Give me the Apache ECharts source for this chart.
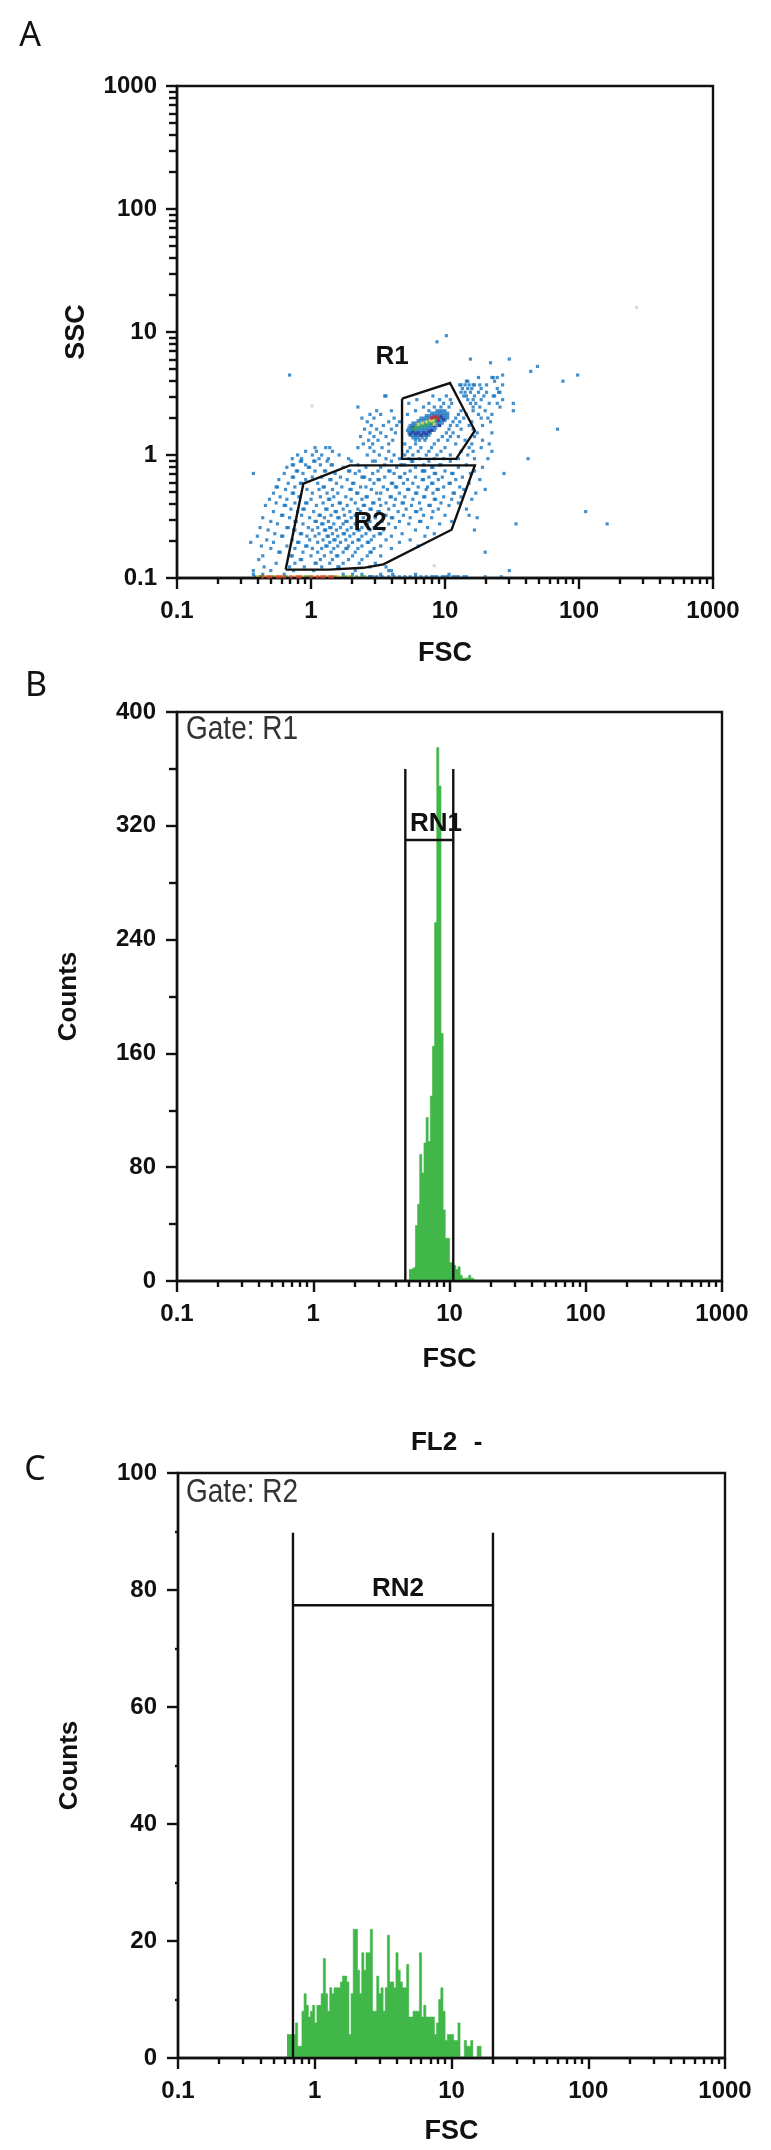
<!DOCTYPE html>
<html>
<head>
<meta charset="utf-8">
<title>FSC SSC gating</title>
<script src="https://cdn.jsdelivr.net/npm/echarts@6/dist/echarts.min.js"></script>
<style>
  html, body { margin: 0; padding: 0; background: #fff; }
  #main { width: 771px; height: 2150px; }
</style>
</head>
<body>
<div id="main"></div>
<script>
// scatter is kept as rows: [log10(SSC) x 100, [log10(FSC) x 100, ...]]
const cloudRows = [
  [97,[101]], [92,[94]], [78,[119,148]], [75,[134]], [72,[169]], [68,[164]], [65,[-16,199,143]],
  [63,[125,135,136,139]], [60,[116,117,137,188]], [57,[111,112,115,118,121,122,126,131,143]],
  [54,[113,117,120,127,139]], [51,[112,115,119,125,131,140,141]], [48,[55,56,91,101,114,116,122,129,136,137]],
  [45,[79,96,104,117,121,127,143]], [42,[73,88,99,105,119,123,133,139,151]],
  [39,[35,84,92,97,103,121,126,141]], [36,[49,60,78,88,112,121,130,151]],
  [33,[44,52,72,110,116,125,135]], [30,[38,47,62,108,114,127,132]],
  [27,[42,58,66,106,111,120,134]], [24,[45,54,64,104,109,118,128]],
  [21,[40,49,60,103,112,121,184]], [18,[44,52,63,101,106,124,135]],
  [15,[37,47,56,98,104,110,122]], [12,[43,50,61,95,102,115,128]],
  [9,[39,46,58,70,78,92,108,120,133]], [6,[3,11,14,35,44,53,74,82,90,100,118,127]],
  [3,[-4,4,16,47,58,72,80,88,97,112,121,135]], [0,[-10,1,8,21,42,51,62,70,76,86,94,104,117]],
  [-3,[-14,-7,6,13,28,56,66,73,81,92,99,110,122,132,162]],
  [-5,[-8,-7,2,3,12,30,46,48,60,75,76,88,104]],
  [-8,[-14,-13,-4,7,15,16,35,55,67,68,70,84,96,97,116]],
  [-10,[-18,-2,-1,24,41,52,64,78,90,91,110,128]],
  [-13,[-11,-10,3,10,11,28,29,36,50,58,59,74,83,84,85,100,122]],
  [-15,[-43,-20,-6,18,33,46,62,70,92,93,105,106,119,144]],
  [-18,[-14,-13,1,8,22,38,39,40,55,66,67,78,88,98,113]],
  [-20,[-24,-4,14,15,27,44,50,51,72,83,84,95,108,126]],
  [-23,[-17,-8,-7,5,19,31,32,47,60,61,69,76,90,91,103,104,118]],
  [-26,[-26,-25,-12,9,10,23,37,41,54,63,64,80,87,99,111]],
  [-28,[-19,-3,6,16,29,30,45,57,72,73,86,94,95,114,130]],
  [-31,[-28,-14,-13,1,12,20,34,35,49,52,66,78,79,91,106,107,123]],
  [-34,[-23,-9,-8,7,17,26,41,42,59,60,70,84,85,99,112]],
  [-36,[-31,-18,0,13,14,30,38,51,63,76,92,93,105,120]],
  [-39,[-26,-12,-4,-3,9,21,22,33,46,47,56,68,69,81,97,110]],
  [-41,[-34,-20,-19,4,16,27,39,40,52,62,75,88,89,103]],
  [-44,[-15,-6,-5,11,12,24,35,44,45,58,71,82,95,116]],
  [-46,[-28,-10,2,18,19,29,37,50,51,65,78,79,91,205]],
  [-49,[-22,-21,-7,6,7,15,25,33,34,43,55,56,69,84,100,118]],
  [-51,[-36,-16,-1,10,20,21,30,39,48,60,61,74,90,124]],
  [-54,[-30,-12,-11,3,4,13,26,27,36,44,53,66,81,82,105]],
  [-56,[-25,-6,8,9,17,24,33,41,42,50,58,73,96,153,221]],
  [-59,[-38,-18,-17,-2,5,14,15,22,30,38,47,48,63,87]],
  [-61,[-32,-13,-12,1,10,11,19,27,35,36,44,54,78,122]],
  [-64,[-27,-8,-7,6,16,24,25,32,41,51,52,68,92]],
  [-66,[-40,-22,-21,-3,3,12,13,20,29,38,47,60,85]],
  [-69,[-33,-14,-1,9,17,18,26,35,36,45,56,74]],
  [-71,[-45,-28,-10,-9,5,14,22,31,42,43,66]],
  [-74,[-37,-18,-4,-3,11,12,20,28,38,52,80]],
  [-76,[-30,-12,1,8,17,26,27,35,47,60]],
  [-79,[-24,-23,-6,5,15,24,33,44,45,130]],
  [-82,[-36,-15,-14,0,10,19,20,31,42,52]],
  [-85,[-39,-8,-7,7,16,28,38]],
  [-88,[-26,-12,3,4,14,24,36,48]],
  [-91,[-35,-16,-5,8,20,21,44,56]],
  [-94,[-43,-30,-13,2,33,58,60,148]],
  [-97,[-43,-36,-20,24,31,38,52,61,78,103]],
  [-99,[-42,-38,44,46,49,53,58,62,66,70,74,78,82,86,90,94,98,102,106,110,114,130,142]]
];
const blobRows = [
  [36,[94,96,98,100]], [34,[90,92,94,96,98,100,102]], [32,[86,88,90,92,94,96,98,100,102]],
  [30,[82,84,86,88,90,92,94,96,98,100,102]], [28,[80,82,84,86,88,90,92,94,96,98,100]],
  [26,[76,78,80,82,84,86,88,90,92,94,96,98]], [24,[74,76,78,80,82,84,86,88,90,92,94,96]],
  [22,[73,75,77,79,81,83,85,87,89,91,93]], [20,[72,74,76,78,80,82,84,86,88,90,92]],
  [18,[73,75,77,79,81,83,85,87,89]], [16,[74,76,78,80,82,84,86,88]], [14,[76,78,80,83,86]], [12,[78,81,85]]
];
const peakDark = [[74,17],[76,19],[78,17],[80,18],[82,16],[84,18],[86,17],[88,19],[90,20],[92,24],[95,28],[97,31],[99,29],[96,24],[76,22]];
const peakGreen = [[76,21],[78,22],[80,23],[82,23],[85,24],[87,25],[89,26],[91,26],[93,29]];
const peakYellow = [[80,25],[83,26],[86,27],[89,28],[91,28],[92,25]];
const peakRed = [[90,30],[92,31],[94,31],[95,29]];
const faintDots = [[243,120],[0.7,40],[92,-90]];
const baseBlue = [[44,-99],[92,-99],[100,-99],[108,-99],[116,-99]];
const baseGreen = [[-38,-99],[-28,-99],[-18,-99],[-4,-99],[-2,-99],[18,-99],[24,-99],[26,-99],[30,-99],[34,-99],[38,-99],[40,-99]];
const baseYellow = [[-40,-99],[-34,-99],[-26,-99],[-22,-99],[-12,-99],[-6,-99],[2,-99],[12,-99],[20,-99],[28,-99]];
const baseRed = [[-36,-99],[-32,-99],[-30,-99],[-25,-99],[-23,-99],[-20,-99],[-15,-99],[-10,-99],[-8,-99],[0,-99],[5,-99],[8,-99],[10,-99],[14,-99],[16,-99]];

const gateR1 = [[4.78,2.87],[10.9,3.85],[16.7,1.58],[12.1,0.93],[4.78,0.93],[4.78,2.87]];
const gateR2 = [[0.647,0.117],[1.36,0.117],[2.46,0.121],[3.47,0.129],[11.2,0.247],[16.7,0.824],[1.95,0.824],[0.877,0.585],[0.647,0.117]];
const gateRN1 = [[4.74,0],[4.74,360],[4.74,310],[10.66,310],[10.66,360],[10.66,0]];
const gateRN2 = [[0.693,0],[0.693,89.8],[0.693,77.4],[20.1,77.4],[20.1,89.8],[20.1,0]];

// histogram counts by channel (256 channels over the four decades)
const startB = 109;
const countsB = [8,9,10,39,54,89,76,97,115,98,130,165,252,375,348,174,50,30,30,13,13,11,8,10,4,2,2,2,4,2,1];
const startC = 51;
const countsC = [4,4,4,4,6,2,2,8,11,9,7,8,9,6,9,9,11,17,11,8,12,11,12,12,12,13,14,14,13,4,11,22,22,15,11,18,15,18,18,22,8,8,14,11,12,8,12,21,13,13,12,18,15,13,12,12,16,7,7,8,8,8,18,7,9,7,7,7,7,4,6,10,12,8,3,4,4,4,3,3,6,0,0,3,2,2,3,0,0,2,2];

const minorDecadeTicks = [0.2,0.3,0.4,0.5,0.6,0.7,0.8,0.9,2,3,4,5,6,7,8,9,20,30,40,50,60,70,80,90,200,300,400,500,600,700,800,900];
const logLabels = [0.1,1,10,100,1000];

const INK = '#111';
const GREEN = '#41b649';
const LINE_W = 2.4;
const labelFont = { fontFamily: 'Liberation Sans', fontWeight: 'bold', color: INK };

function fromLog(p) { return [Math.pow(10, p[0] / 100), Math.pow(10, p[1] / 100)]; }
function rowsToPoints(rows) {
  const pts = [];
  rows.forEach(r => r[1].forEach(x => pts.push(fromLog([x, r[0]]))));
  return pts;
}
function channelData(start, counts) {
  const out = [];
  for (let i = 0; i < 256; i++) {
    const v = counts[i - start];
    out.push(v === undefined ? null : v);
  }
  return out;
}
const channels = [];
for (let i = 0; i < 256; i++) channels.push(i);
const plainNumber = v => String(v);

function logX(gridIndex, nameGap) {
  return [
    { type: 'log', gridIndex, position: 'bottom', min: 0.1, max: 1000, logBase: 10, z: 5,
      name: 'FSC', nameLocation: 'middle', nameGap,
      nameTextStyle: Object.assign({ fontSize: 27 }, labelFont),
      axisLine: { show: true, onZero: false, lineStyle: { color: INK, width: LINE_W } },
      axisTick: { show: true, length: 11, lineStyle: { color: INK, width: LINE_W }, customValues: logLabels },
      axisLabel: Object.assign({ fontSize: 24, margin: 21, hideOverlap: false, customValues: logLabels, formatter: plainNumber, showMinLabel: true, showMaxLabel: true }, labelFont),
      splitLine: { show: false } },
    { type: 'log', gridIndex, position: 'bottom', min: 0.1, max: 1000, logBase: 10, z: 5,
      axisLine: { show: false, onZero: false },
      axisTick: { show: true, length: 6, lineStyle: { color: INK, width: LINE_W }, customValues: minorDecadeTicks },
      axisLabel: { show: false }, splitLine: { show: false } }
  ];
}
function channelX(gridIndex) {
  return { type: 'category', gridIndex, data: channels, boundaryGap: true, show: false };
}
function countY(gridIndex, max, interval, minorLen, nameGap, fontSize) {
  return { type: 'value', gridIndex, position: 'left', min: 0, max, interval, z: 5,
    name: 'Counts', nameLocation: 'middle', nameGap,
    nameTextStyle: Object.assign({ fontSize: 26 }, labelFont),
    axisLine: { show: true, onZero: false, lineStyle: { color: INK, width: LINE_W } },
    axisTick: { show: true, length: 11, lineStyle: { color: INK, width: LINE_W } },
    minorTick: { show: true, splitNumber: 2, length: minorLen, lineStyle: { color: INK, width: LINE_W } },
    axisLabel: Object.assign({ fontSize, margin: 21, showMinLabel: true, showMaxLabel: true }, labelFont),
    splitLine: { show: false }, minorSplitLine: { show: false } };
}
function dots(data, color, z, size) {
  return { type: 'scatter', xAxisIndex: 0, yAxisIndex: 0, data, symbol: 'rect', symbolSize: size || 3.2,
    itemStyle: { color }, z, silent: true, animation: false };
}
function gateLine(data, xAxisIndex, yAxisIndex) {
  return { type: 'line', xAxisIndex, yAxisIndex, data, showSymbol: false, symbol: 'none', z: 8, silent: true,
    clip: false, animation: false, lineStyle: { color: INK, width: LINE_W, join: 'miter' } };
}
function histogram(data, xAxisIndex, yAxisIndex) {
  return { type: 'line', xAxisIndex, yAxisIndex, data, step: 'middle', showSymbol: false, symbol: 'none', z: 3,
    connectNulls: false, animation: false, lineStyle: { color: GREEN, width: 0.6 }, areaStyle: { color: GREEN, opacity: 1 } };
}
function plain(text, x, y, fontSize, opts) {
  return { type: 'text', x, y, z: 20, style: Object.assign({ text, fontFamily: 'Liberation Sans', fontWeight: 'bold', fontSize,
    fill: INK, align: 'center', verticalAlign: 'middle' }, opts || {}) };
}
function gateCaption(text, x, y) {
  const el = plain(text, x, y, 28, { fontWeight: 'normal', align: 'left', fill: '#333' });
  el.scaleY = 1.2;
  return el;
}
const gridBase = { show: true, borderColor: INK, borderWidth: LINE_W, backgroundColor: '#fff' };

const option = {
  animation: false,
  backgroundColor: '#fff',
  grid: [
    Object.assign({ left: 177, top: 86, width: 536, height: 492 }, gridBase),
    Object.assign({ left: 177, top: 712, width: 545, height: 569 }, gridBase),
    Object.assign({ left: 178, top: 1473, width: 547, height: 585 }, gridBase)
  ],
  xAxis: [].concat(logX(0, 62), logX(1, 65), channelX(1), logX(2, 60), channelX(2)),
  yAxis: [
    { type: 'log', gridIndex: 0, position: 'left', min: 0.1, max: 1000, logBase: 10, z: 5,
      name: 'SSC', nameLocation: 'middle', nameGap: 87,
      nameTextStyle: Object.assign({ fontSize: 27 }, labelFont),
      axisLine: { show: true, onZero: false, lineStyle: { color: INK, width: LINE_W } },
      axisTick: { show: true, length: 11, lineStyle: { color: INK, width: LINE_W }, customValues: logLabels },
      axisLabel: Object.assign({ fontSize: 24, margin: 20, customValues: logLabels, formatter: plainNumber, showMinLabel: true, showMaxLabel: true }, labelFont),
      splitLine: { show: false } },
    { type: 'log', gridIndex: 0, position: 'left', min: 0.1, max: 1000, logBase: 10, z: 5,
      axisLine: { show: false, onZero: false },
      axisTick: { show: true, length: 8, lineStyle: { color: INK, width: LINE_W }, customValues: minorDecadeTicks },
      axisLabel: { show: false }, splitLine: { show: false } },
    countY(1, 400, 80, 8, 95, 24),
    countY(2, 100, 20, 3, 95, 24)
  ],
  series: [
    dots(rowsToPoints(cloudRows), '#1574bf', 2),
    dots(rowsToPoints(blobRows), '#1f78c2', 3),
    dots(faintDots.map(fromLog), '#c9d3da', 2),
    dots(baseBlue.map(fromLog), '#1574bf', 3),
    dots(baseGreen.map(fromLog), '#4caf3c', 4),
    dots(baseYellow.map(fromLog), '#e8c21c', 4),
    dots(baseRed.map(fromLog), '#d8402a', 5),
    dots(peakDark.map(fromLog), '#2b3a9e', 4),
    dots(peakGreen.map(fromLog), '#35b04a', 5),
    dots(peakYellow.map(fromLog), '#f2e33c', 6),
    dots(peakRed.map(fromLog), '#e0202c', 7),
    gateLine(gateR1, 0, 0),
    gateLine(gateR2, 0, 0),
    histogram(channelData(startB, countsB), 4, 2),
    gateLine(gateRN1, 2, 2),
    histogram(channelData(startC, countsC), 7, 3),
    gateLine(gateRN2, 5, 3),
    // keeps the short tick axes alive
    { type: 'line', xAxisIndex: 1, yAxisIndex: 1, data: [], silent: true },
    { type: 'line', xAxisIndex: 3, yAxisIndex: 2, data: [], silent: true },
    { type: 'line', xAxisIndex: 6, yAxisIndex: 3, data: [], silent: true }
  ],
  graphic: [
    plain('A', 30, 36, 34, { fontFamily: 'Noto Sans', fontWeight: 'normal' }),
    plain('B', 36, 686, 34, { fontFamily: 'Noto Sans', fontWeight: 'normal' }),
    plain('C', 35, 1470, 34, { fontFamily: 'Noto Sans', fontWeight: 'normal' }),
    plain('R1', 392, 357, 26),
    plain('R2', 370, 523, 26),
    plain('RN1', 436, 824, 26),
    plain('RN2', 398, 1589, 26),
    plain('FL2', 434, 1443, 26),
    plain('-', 478, 1443, 26),
    gateCaption('Gate: R1', 186, 730),
    gateCaption('Gate: R2', 186, 1493)
  ]
};

const chart = echarts.init(document.getElementById('main'), null, { renderer: 'canvas' });
chart.setOption(option);
</script>
</body>
</html>
